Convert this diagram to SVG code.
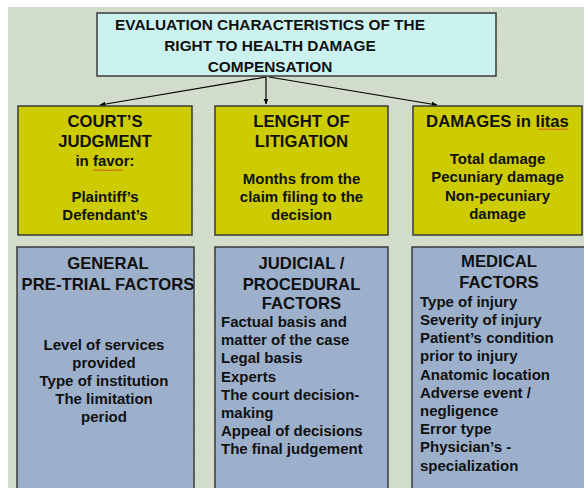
<svg xmlns="http://www.w3.org/2000/svg" width="584" height="488" viewBox="0 0 584 488">
<defs>
<pattern id="dots" x="8" y="7" width="16" height="12" patternUnits="userSpaceOnUse">
<rect width="16" height="12" fill="#d2dccb"/>
<rect x="3" y="2" width="1" height="1" fill="#eafaf2"/>
<rect x="11" y="8" width="1" height="1" fill="#eafaf2"/>
</pattern>
<marker id="ah" viewBox="0 0 10 10" refX="9" refY="5" markerWidth="6" markerHeight="6" orient="auto" markerUnits="userSpaceOnUse">
<path d="M0,1 L10,5 L0,9 z" fill="#000"/>
</marker>
</defs>
<style>
.box{stroke:#3a3a3a;stroke-width:1.5}
.title{fill:#ccf2f0}
.yel{fill:#cccc00}
.blu{fill:#9cb0cc}
text{font-family:"Liberation Sans",Arial,sans-serif;font-weight:bold;fill:#111}
.h{font-size:16.7px;text-anchor:middle}
.t{font-size:15.4px;text-anchor:middle}
.b{font-size:15px;text-anchor:middle}
.l{font-size:15px}
.conn line{stroke:#000;stroke-width:1.2;marker-end:url(#ah)}
.sq{fill:none;stroke:#e03030;stroke-width:0.8}
</style>
<rect width="584" height="488" fill="#fff"/>
<rect x="8" y="7" width="576" height="481" fill="url(#dots)"/>

<g id="title">
<rect class="box title" x="97" y="13" width="399" height="63"/>
<text class="t" x="270" y="30">EVALUATION CHARACTERISTICS OF THE</text>
<text class="t" x="270" y="51">RIGHT TO HEALTH DAMAGE</text>
<text class="t" x="270" y="72">COMPENSATION</text>
</g>

<g class="conn">
<line x1="266" y1="77" x2="100" y2="105"/>
<line x1="266" y1="77" x2="266" y2="104"/>
<line x1="269" y1="77" x2="437" y2="105"/>
</g>

<g id="courts-judgment">
<rect class="box yel" x="18" y="106" width="174" height="129"/>
<text class="h" x="105" y="127">COURT’S</text>
<text class="h" x="105" y="147">JUDGMENT</text>
<text class="b" x="105" y="166">in favor:</text>
<path class="sq" d="M93,171 l1.5,-1.5 l1.5,1.5 l1.5,-1.5 l1.5,1.5 l1.5,-1.5 l1.5,1.5 l1.5,-1.5 l1.5,1.5 l1.5,-1.5 l1.5,1.5 l1.5,-1.5 l1.5,1.5 l1.5,-1.5 l1.5,1.5 l1.5,-1.5 l1.5,1.5 l1.5,-1.5 l1.5,1.5 l1.5,-1.5 l1.5,1.5"/>
<text class="b" x="105" y="202">Plaintiff’s</text>
<text class="b" x="105" y="220">Defendant’s</text>
</g>

<g id="length-of-litigation">
<rect class="box yel" x="215" y="106" width="173" height="129"/>
<text class="h" x="301.5" y="127">LENGHT OF</text>
<text class="h" x="301.5" y="147">LITIGATION</text>
<text class="b" x="301.5" y="184">Months from the</text>
<text class="b" x="301.5" y="202">claim filing to the</text>
<text class="b" x="301.5" y="220">decision</text>
</g>

<g id="damages">
<rect class="box yel" x="413" y="106" width="169" height="129"/>
<text class="h" x="497.5" y="127">DAMAGES in litas</text>
<path class="sq" d="M538,130 l1.5,-1.5 l1.5,1.5 l1.5,-1.5 l1.5,1.5 l1.5,-1.5 l1.5,1.5 l1.5,-1.5 l1.5,1.5 l1.5,-1.5 l1.5,1.5 l1.5,-1.5 l1.5,1.5 l1.5,-1.5 l1.5,1.5 l1.5,-1.5 l1.5,1.5 l1.5,-1.5 l1.5,1.5 l1.5,-1.5 l1.5,1.5"/>
<text class="b" x="497.5" y="164">Total damage</text>
<text class="b" x="497.5" y="182">Pecuniary damage</text>
<text class="b" x="497.5" y="201">Non-pecuniary</text>
<text class="b" x="497.5" y="219">damage</text>
</g>

<g id="general-pretrial">
<rect class="box blu" x="17" y="247" width="177" height="250"/>
<text class="h" x="108" y="269">GENERAL</text>
<text class="h" x="108" y="290">PRE-TRIAL FACTORS</text>
<text class="b" x="104" y="350">Level of services</text>
<text class="b" x="104" y="368">provided</text>
<text class="b" x="104" y="386">Type of institution</text>
<text class="b" x="104" y="404">The limitation</text>
<text class="b" x="104" y="422">period</text>
</g>

<g id="judicial-procedural">
<rect class="box blu" x="215" y="247" width="173" height="250"/>
<text class="h" x="301.5" y="269">JUDICIAL /</text>
<text class="h" x="301.5" y="290">PROCEDURAL</text>
<text class="h" x="301.5" y="309">FACTORS</text>
<text class="l" x="221" y="327">Factual basis and</text>
<text class="l" x="221" y="345">matter of the case</text>
<text class="l" x="221" y="363">Legal basis</text>
<text class="l" x="221" y="382">Experts</text>
<text class="l" x="221" y="400">The court decision-</text>
<text class="l" x="221" y="418">making</text>
<text class="l" x="221" y="436">Appeal of decisions</text>
<text class="l" x="221" y="454">The final judgement</text>
</g>

<g id="medical">
<rect class="box blu" x="412" y="247" width="180" height="250"/>
<text class="h" x="499" y="267">MEDICAL</text>
<text class="h" x="499" y="288">FACTORS</text>
<text class="l" x="420" y="307">Type of injury</text>
<text class="l" x="420" y="325">Severity of injury</text>
<text class="l" x="420" y="343">Patient’s condition</text>
<text class="l" x="420" y="361">prior to injury</text>
<text class="l" x="420" y="380">Anatomic location</text>
<text class="l" x="420" y="398">Adverse event /</text>
<text class="l" x="420" y="416">negligence</text>
<text class="l" x="420" y="434">Error type</text>
<text class="l" x="420" y="452">Physician’s -</text>
<text class="l" x="420" y="471">specialization</text>
</g>
</svg>
